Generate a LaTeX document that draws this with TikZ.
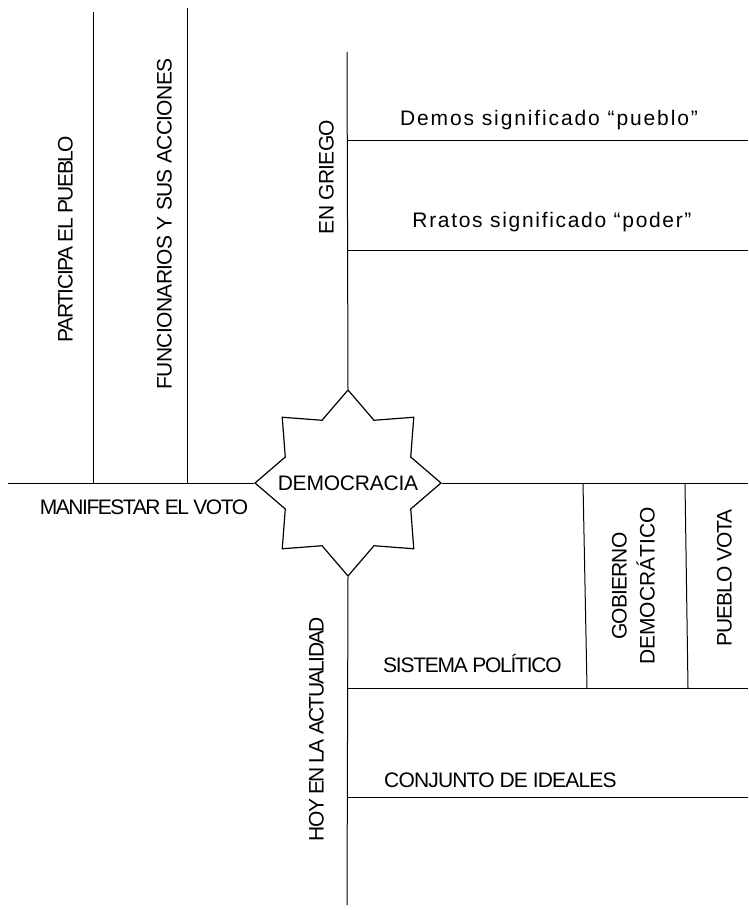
\documentclass[tikz,border=0pt]{standalone}
\usepackage{fontspec}
\setmainfont{Liberation Sans}
\usetikzlibrary{shapes.geometric}
\newcommand{\lsp}[1]{\addfontfeature{LetterSpace=#1}}
\begin{document}
\begin{tikzpicture}[x=1pt,y=-1pt,
  ln/.style={line width=1pt},
  lbl/.style={inner sep=0pt, text height=15pt, text depth=0pt},
  fnt/.style={font=\fontsize{21}{24}\selectfont\lsp{#1}},
  vert/.style={lbl, rotate=90}
]
\useasboundingbox (0,0) rectangle (748,910);

% central star
\node[star, star points=8, star point ratio=1.37, minimum size=186pt,
      inner sep=0pt, draw, line width=1.2pt] (star) at (348,483) {};
\node[lbl, fnt=-1] (dem) at (star.center) {DEMOCRACIA};

% free ends
\coordinate (nEnd) at (347,52);
\coordinate (sEnd) at (347,905);
\coordinate (wEnd) at (8,483);
\coordinate (eEnd) at (748,483);

\draw[ln] (star.north) -- (nEnd);
\draw[ln] (star.south) -- (sEnd);
\draw[ln] (star.west) -- (wEnd);
\draw[ln] (star.east) -- (eEnd);

% left branches
\coordinate (l1t) at (93,12);  \coordinate (l1b) at (93,483);
\coordinate (l2t) at (187,8);  \coordinate (l2b) at (187,483);
\draw[ln] (l1b) -- (l1t);
\draw[ln] (l2b) -- (l2t);

% upper right branches
\coordinate (u1a) at (348,140); \coordinate (u1b) at (748,140);
\coordinate (u2a) at (348,250); \coordinate (u2b) at (748,250);
\draw[ln] (u1a) -- (u1b);
\draw[ln] (u2a) -- (u2b);

% lower right branches
\coordinate (d1a) at (348,688); \coordinate (d1b) at (748,688);
\coordinate (d2a) at (348,797); \coordinate (d2b) at (748,797);
\draw[ln] (d1a) -- (d1b);
\draw[ln] (d2a) -- (d2b);

% small vertical branches
\coordinate (g1t) at (583,483); \coordinate (g1b) at (587,688);
\coordinate (g2t) at (685,483); \coordinate (g2b) at (688,688);
\draw[ln] (g1t) -- (g1b);
\draw[ln] (g2t) -- (g2b);

% labels
\node[vert, fnt=-7] (part) at (65,239) {PARTICIPA EL PUEBLO};
\node[vert, fnt=-3] (func) at (164,224) {FUNCIONARIOS Y SUS ACCIONES};
\node[lbl, fnt=-7] (mani) at (144,507) {MANIFESTAR EL VOTO};
\node[vert, fnt=-3] (grie) at (326,177) {EN GRIEGO};
\node[lbl, fnt=9] (demos) at (549,118) {Demos significado “pueblo”};
\node[lbl, fnt=8] (krat) at (552,220) {Rratos significado “poder”};
\node[vert, fnt=-8] (hoy) at (316,729) {HOY EN LA ACTUALIDAD};
\node[lbl, fnt=-6, anchor=west] (sist) at (383,665) {SISTEMA POLÍTICO};
\node[lbl, fnt=-4, anchor=west] (conj) at (384,780) {CONJUNTO DE IDEALES};
\node[vert, fnt=-4] (gob) at (619,586) {GOBIERNO};
\node[vert, fnt=0] (democ) at (647,586) {DEMOCRÁTICO};
\node[vert, fnt=-5] (vota) at (724,578) {PUEBLO VOTA};
\end{tikzpicture}
\end{document}
